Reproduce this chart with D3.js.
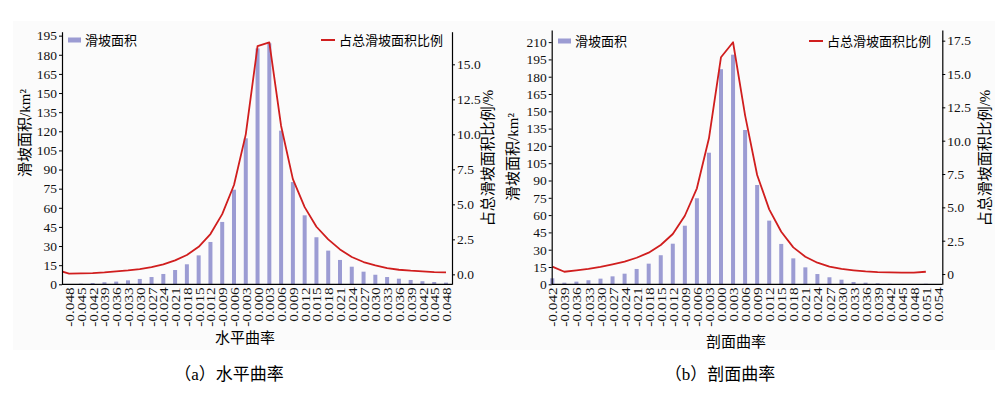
<!DOCTYPE html>
<html>
<head>
<meta charset="utf-8">
<script src="https://cdn.jsdelivr.net/npm/d3@7"></script>
<style>
  body { margin: 0; background: #fff; }
  svg { display: block; }
  svg text { font-family: "Liberation Serif", "Times New Roman", "Noto Sans CJK SC", serif; }
</style>
</head>
<body>
<div id="chart"></div>
<script>
// (a) 水平曲率
const catsA = ["-0.048", "-0.045", "-0.042", "-0.039", "-0.036", "-0.033", "-0.030", "-0.027", "-0.024", "-0.021", "-0.018",
  "-0.015", "-0.012", "-0.009", "-0.006", "-0.003", "0.000", "0.003", "0.006", "0.009", "0.012", "0.015", "0.018",
  "0.021", "0.024", "0.027", "0.030", "0.033", "0.036", "0.039", "0.042", "0.045", "0.048"];
const areaA = [0, 0.5, 1.0, 1.6, 2.1, 3.1, 4.2, 5.7, 8.1, 11.2, 15.7, 22.7, 33.2, 48.9, 74.2, 114.5, 185, 189,
  120.5, 80.2, 54.1, 36.9, 26.4, 19.1, 13.8, 9.9, 7.5, 5.7, 4.4, 3.4, 2.4, 1.8, 1.3];
// line starts one class before the first label (-0.051) and is clipped by the axis
const shareALead = 0.3;
const shareA = [0.05, 0.07, 0.09, 0.14, 0.21, 0.28, 0.38, 0.52, 0.71, 1.0, 1.38, 1.97, 2.88, 4.3, 6.38, 10.0, 16.3,
  16.57, 10.6, 6.8, 4.8, 3.4, 2.5, 1.78, 1.24, 0.88, 0.64, 0.45, 0.33, 0.26, 0.21, 0.16, 0.14];
const leftTicksA = [0, 15, 30, 45, 60, 75, 90, 105, 120, 135, 150, 165, 180, 195];
const rightTicksA = [0, 2.5, 5, 7.5, 10, 12.5, 15];

// (b) 剖面曲率
const catsB = ["-0.042", "-0.039", "-0.036", "-0.033", "-0.030", "-0.027", "-0.024", "-0.021", "-0.018", "-0.015",
  "-0.012", "-0.009", "-0.006", "-0.003", "0.000", "0.003", "0.006", "0.009", "0.012", "0.015", "0.018", "0.021",
  "0.024", "0.027", "0.030", "0.033", "0.036", "0.039", "0.042", "0.045", "0.048", "0.051", "0.054"];
const areaB = [5.2, 1.4, 2.3, 3.5, 4.9, 6.9, 9.2, 13.3, 17.9, 25.2, 35.2, 50.8, 74.6, 114.1, 186.5, 199.1, 133.8,
  86.1, 55.2, 35.0, 22.5, 14.7, 8.9, 6.1, 4.0, 2.0, 1.4, 0.9, 0.5, 0.3, 0.2, 0.5, 0];
const shareB = [0.55, 0.17, 0.28, 0.38, 0.53, 0.73, 0.93, 1.22, 1.6, 2.18, 3.0, 4.37, 6.43, 10.18, 16.26, 17.38,
  11.9, 7.43, 4.85, 3.17, 2.0, 1.3, 0.85, 0.55, 0.38, 0.28, 0.2, 0.15, 0.12, 0.1, 0.1, 0.17];
const leftTicksB = [0, 15, 30, 45, 60, 75, 90, 105, 120, 135, 150, 165, 180, 195, 210];
const rightTicksB = [0, 2.5, 5, 7.5, 10, 12.5, 15, 17.5];

const width = 1000;
const height = 393;
const barColor = "#9c9cd3";
const lineColor = "#d01e1e";

const svg = d3.select("#chart").append("svg")
  .attr("width", width)
  .attr("height", height);

svg.append("rect")
  .attr("x", 13).attr("y", 21)
  .attr("width", 982).attr("height", 329)
  .attr("fill", "#fbfbfb");

const drawPanel = (p) => {
  const g = svg.append("g");

  const x = d3.scaleLinear().domain([0, p.cats.length - 1]).range([p.x0, p.x1]);
  const yL = d3.scaleLinear().domain(p.leftDomain).range([p.bottom, p.top]);
  const yR = d3.scaleLinear().domain(p.rightDomain).range([p.bottom, p.top]);

  const clipId = "clip-" + p.id;
  g.append("clipPath").attr("id", clipId)
    .append("rect")
    .attr("x", p.left).attr("y", p.top - 5)
    .attr("width", p.right - p.left).attr("height", p.bottom - p.top + 5);

  // bars
  g.append("g")
    .selectAll("rect")
    .data(p.area)
    .join("rect")
    .attr("x", (d, i) => x(i) - 2)
    .attr("width", 4)
    .attr("y", d => yL(d))
    .attr("height", d => yL(0) - yL(d))
    .attr("fill", barColor);

  // share line
  const pts = p.share.map((v, i) => [x(i), yR(v)]);
  if (p.lead !== undefined) pts.unshift([x(-1), yR(p.lead)]);
  g.append("path")
    .attr("clip-path", `url(#${clipId})`)
    .attr("d", d3.line()(pts))
    .attr("fill", "none")
    .attr("stroke", lineColor)
    .attr("stroke-width", 1.8)
    .attr("stroke-linejoin", "round");

  // left axis
  const axL = g.append("g")
    .attr("transform", `translate(${p.left},0)`)
    .call(d3.axisLeft(yL).tickValues(p.leftTicks).tickSize(3).tickSizeOuter(0).tickPadding(2));
  // right axis
  const axR = g.append("g")
    .attr("transform", `translate(${p.right},0)`)
    .call(d3.axisRight(yR).tickValues(p.rightTicks).tickSize(3).tickSizeOuter(0).tickPadding(2)
      .tickFormat(p.rightFormat));
  [axL, axR].forEach(a => {
    a.attr("font-family", null);
    a.selectAll("text").style("font-size", "13.5px").attr("fill", "#111");
    a.select(".domain").attr("stroke-width", 1.2);
  });

  // bottom axis, labels turned and a bit stretched along their length
  const axB = g.append("g")
    .attr("transform", `translate(0,${p.bottom})`)
    .call(d3.axisBottom(x).tickValues(d3.range(p.cats.length)).tickSize(0).tickFormat(i => p.cats[i]));
  axB.attr("font-family", null);
  axB.select(".domain").remove();
  axB.selectAll("text")
    .attr("transform", "rotate(-90) scale(1.18,1)")
    .attr("text-anchor", "end")
    .attr("x", -2.5)
    .attr("y", 0)
    .attr("dy", "0.35em")
    .attr("fill", "#111")
    .style("font-size", "13px");
  g.append("line")
    .attr("x1", p.left).attr("x2", p.right)
    .attr("y1", p.bottom).attr("y2", p.bottom)
    .attr("stroke", "#000").attr("stroke-width", 1.2);

  // axis titles
  g.append("text")
    .attr("transform", `translate(${p.leftTitle[0]},${p.leftTitle[1]}) rotate(-90)`)
    .attr("text-anchor", "middle").attr("dominant-baseline", "central")
    .style("font-size", "15px")
    .text("滑坡面积/km²");
  g.append("text")
    .attr("transform", `translate(${p.rightTitle[0]},${p.rightTitle[1]}) rotate(-90)`)
    .attr("text-anchor", "middle").attr("dominant-baseline", "central")
    .style("font-size", "15px")
    .text("占总滑坡面积比例/%");
  g.append("text")
    .attr("x", p.xTitle[0]).attr("y", p.xTitle[1])
    .attr("text-anchor", "middle").attr("dominant-baseline", "central")
    .style("font-size", "15px")
    .text(p.xLabel);
  g.append("text")
    .attr("x", p.caption[0]).attr("y", p.caption[1])
    .attr("text-anchor", "middle").attr("dominant-baseline", "central")
    .style("font-size", "17px")
    .text(p.captionText);

  // legend
  const lg = g.append("g").style("font-size", "13px");
  lg.append("rect")
    .attr("x", p.legendBar[0]).attr("y", p.legendBar[1] - 2.5)
    .attr("width", 13).attr("height", 5)
    .attr("fill", barColor);
  lg.append("text")
    .attr("x", p.legendBar[0] + 17).attr("y", p.legendBar[1])
    .attr("dominant-baseline", "central")
    .text("滑坡面积");
  lg.append("line")
    .attr("x1", p.legendLine[0]).attr("x2", p.legendLine[0] + 14)
    .attr("y1", p.legendLine[1]).attr("y2", p.legendLine[1])
    .attr("stroke", lineColor).attr("stroke-width", 2);
  lg.append("text")
    .attr("x", p.legendLine[0] + 18).attr("y", p.legendLine[1])
    .attr("dominant-baseline", "central")
    .text("占总滑坡面积比例");
};

drawPanel({
  id: "a",
  cats: catsA, area: areaA, share: shareA, lead: shareALead,
  leftTicks: leftTicksA, rightTicks: rightTicksA,
  leftDomain: [0, 198.1], rightDomain: [-0.71, 17.33],
  rightFormat: d3.format(".1f"),
  left: 62, right: 452, top: 31.7, bottom: 284.3,
  x0: 69.1, x1: 446,
  leftTitle: [25, 133], rightTitle: [488, 158],
  xTitle: [245, 338], xLabel: "水平曲率",
  caption: [229, 374], captionText: "（a）水平曲率",
  legendBar: [68, 40], legendLine: [321, 40]
});

drawPanel({
  id: "b",
  cats: catsB, area: areaB, share: shareB,
  leftTicks: leftTicksB, rightTicks: rightTicksB,
  leftDomain: [0, 220.5], rightDomain: [-0.77, 18.3],
  rightFormat: d => d === 0 ? "0" : d3.format(".1f")(d),
  left: 551.7, right: 942.3, top: 30, bottom: 284.3,
  x0: 552.3, x1: 937.9,
  leftTitle: [513, 157], rightTitle: [985, 158],
  xTitle: [736, 342], xLabel: "剖面曲率",
  caption: [720, 374], captionText: "（b）剖面曲率",
  legendBar: [558, 41], legendLine: [809, 41]
});
</script>
</body>
</html>
